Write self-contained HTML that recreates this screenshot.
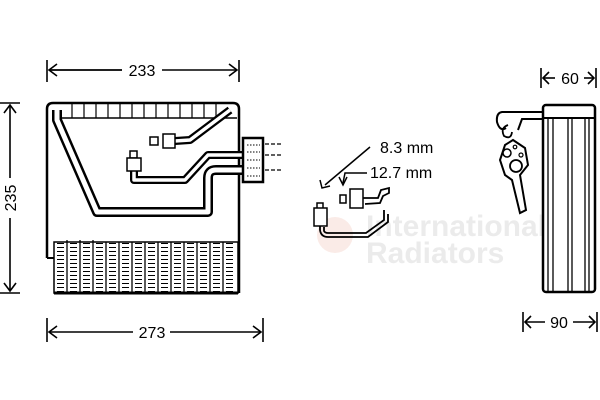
<!DOCTYPE html>
<html><head><style>html,body{margin:0;padding:0;background:#fff}svg{display:block}</style></head>
<body>
<svg width="600" height="400" viewBox="0 0 600 400" xmlns="http://www.w3.org/2000/svg" font-family="Liberation Sans, sans-serif">
<defs>
<pattern id="coil" x="54" y="242" width="13" height="4" patternUnits="userSpaceOnUse">
<rect width="13" height="4" fill="#fff"/>
<line x1="3" y1="1.5" x2="10" y2="1.5" stroke="#000" stroke-width="1"/>
</pattern>
<marker id="ah" markerWidth="10" markerHeight="10" refX="8" refY="5" orient="auto" markerUnits="userSpaceOnUse">
<path d="M0,0 L8,5 L0,10" fill="none" stroke="#000" stroke-width="2"/>
</marker>
</defs>
<!-- watermark -->
<g opacity="0.5">
<text x="366" y="236" font-size="30" font-weight="bold" fill="#d8d8d8">International</text>
<text x="366" y="263" font-size="30" font-weight="bold" fill="#d8d8d8">Radiators</text>
<circle cx="335" cy="235" r="18" fill="#f6d8d0"/>
</g>
<!-- dims -->
<g stroke="#000" stroke-width="1.6" fill="none">
<line x1="47" y1="60" x2="47" y2="82"/><line x1="239" y1="60" x2="239" y2="82"/>
<line x1="49" y1="70" x2="122" y2="70" marker-start="url(#ah)" style="marker-start:none"/>
<path d="M57,64 L49,70 L57,76"/><line x1="49" y1="70" x2="122" y2="70"/>
<line x1="162" y1="70" x2="237" y2="70"/><path d="M229,64 L237,70 L229,76"/>
<line x1="47" y1="318" x2="47" y2="342"/><line x1="263" y1="318" x2="263" y2="342"/>
<line x1="49" y1="332" x2="133" y2="332"/><path d="M57,326 L49,332 L57,338"/>
<line x1="170" y1="332" x2="261" y2="332"/><path d="M253,326 L261,332 L253,338"/>
<line x1="0" y1="103" x2="20" y2="103"/><line x1="0" y1="293" x2="20" y2="293"/>
<line x1="10" y1="105" x2="10" y2="178"/><path d="M4,113 L10,105 L16,113"/>
<line x1="10" y1="218" x2="10" y2="291"/><path d="M4,283 L10,291 L16,283"/>
<line x1="541" y1="68" x2="541" y2="88"/><line x1="596" y1="68" x2="596" y2="88"/>
<path d="M549,72 L543,78 L549,84"/><line x1="543" y1="78" x2="555" y2="78"/>
<path d="M588,72 L594,78 L588,84"/><line x1="584" y1="78" x2="594" y2="78"/>
<line x1="523" y1="312" x2="523" y2="332"/><line x1="597" y1="312" x2="597" y2="332"/>
<path d="M531,316 L525,322 L531,328"/><line x1="525" y1="322" x2="545" y2="322"/>
<path d="M589,316 L595,322 L589,328"/><line x1="573" y1="322" x2="595" y2="322"/>
</g>
<g font-size="16" fill="#000">
<text x="142" y="76" text-anchor="middle">233</text>
<text x="152" y="338" text-anchor="middle">273</text>
<text transform="translate(16,198) rotate(-90)" text-anchor="middle">235</text>
<text x="570" y="84" text-anchor="middle">60</text>
<text x="559" y="328" text-anchor="middle">90</text>
<text x="380" y="153">8.3 mm</text>
<text x="370" y="178">12.7 mm</text>
</g>
<!-- main body -->
<g stroke="#000" fill="none">
<path d="M47,258 L47,109 Q47,103 53,103 L233,103 Q239,103 239,109 L239,293" stroke-width="2.5"/>
<line x1="53" y1="118" x2="237" y2="118" stroke-width="1.5"/>
<g stroke-width="1.2">
<line x1="72" y1="104" x2="72" y2="118"/><line x1="84" y1="104" x2="84" y2="118"/><line x1="96" y1="104" x2="96" y2="118"/><line x1="108" y1="104" x2="108" y2="118"/><line x1="120" y1="104" x2="120" y2="118"/><line x1="132" y1="104" x2="132" y2="118"/><line x1="144" y1="104" x2="144" y2="118"/><line x1="156" y1="104" x2="156" y2="118"/><line x1="168" y1="104" x2="168" y2="118"/><line x1="180" y1="104" x2="180" y2="118"/><line x1="192" y1="104" x2="192" y2="118"/><line x1="204" y1="104" x2="204" y2="118"/><line x1="216" y1="104" x2="216" y2="118"/>
</g>
<line x1="47" y1="258" x2="54" y2="258" stroke-width="2"/>
</g>
<rect x="54" y="242" width="184" height="51" fill="url(#coil)" stroke="#000" stroke-width="1.5"/>
<g stroke="#000" stroke-width="1.3">
<line x1="67" y1="240" x2="67" y2="293"/><line x1="80" y1="240" x2="80" y2="293"/><line x1="93" y1="240" x2="93" y2="293"/><line x1="106" y1="242" x2="106" y2="293"/><line x1="119" y1="242" x2="119" y2="293"/><line x1="132" y1="242" x2="132" y2="293"/><line x1="145" y1="242" x2="145" y2="293"/><line x1="158" y1="242" x2="158" y2="293"/><line x1="171" y1="242" x2="171" y2="293"/><line x1="184" y1="242" x2="184" y2="293"/><line x1="197" y1="242" x2="197" y2="293"/><line x1="210" y1="242" x2="210" y2="293"/><line x1="223" y1="242" x2="223" y2="293"/>
</g>
<line x1="54" y1="293" x2="238" y2="293" stroke="#000" stroke-width="3"/>
<!-- pipes: double lines -->
<g fill="none" stroke-linejoin="round">
<path d="M57,110 L57,120 L97,212 L208,212 L208,178 Q208,170 216,170 L244,170" stroke="#000" stroke-width="10"/>
<path d="M57,110 L57,120 L97,212 L208,212 L208,178 Q208,170 216,170 L244,170" stroke="#fff" stroke-width="5"/>
<path d="M230,110 L190,140 L175,141" stroke="#000" stroke-width="8"/>
<path d="M230,110 L190,140 L175,141" stroke="#fff" stroke-width="3.5"/>
<path d="M134,170 L134,180 L185,180 L208,155 L244,155" stroke="#000" stroke-width="8"/>
<path d="M134,170 L134,180 L185,180 L208,155 L244,155" stroke="#fff" stroke-width="3.5"/>
</g>
<g fill="#fff" stroke="#000" stroke-width="1.5">
<rect x="150" y="137" width="8" height="8"/><rect x="163" y="134" width="12" height="14"/>
<rect x="130" y="151" width="7" height="7"/><rect x="127" y="158" width="14" height="13"/>
<rect x="243" y="138" width="20" height="44" stroke-width="2.5"/>
</g>
<g stroke="#000" stroke-width="1" stroke-dasharray="1.5,1.5">
<line x1="247" y1="145" x2="260" y2="145"/><line x1="247" y1="152" x2="260" y2="152"/><line x1="247" y1="160" x2="260" y2="160"/><line x1="247" y1="168" x2="260" y2="168"/><line x1="247" y1="176" x2="260" y2="176"/>
</g>
<g stroke="#000" stroke-width="1.3" stroke-dasharray="4,2">
<line x1="265" y1="144" x2="281" y2="144"/><line x1="265" y1="155" x2="281" y2="155"/><line x1="265" y1="170" x2="281" y2="170"/>
</g>
<!-- mid detail -->
<g stroke="#000" stroke-width="1.5" fill="none">
<path d="M370,147 L325,185"/><path d="M320,180 L322,188 L330,186"/>
<path d="M367,173 L345,173 L343,183"/><path d="M339,177 L343,185 L347,177"/>
<path d="M363,198 L378,198 L381,190 L389,188 L389,193 L383,196 L380,203 L365,204" stroke-width="1.8"/>
<rect x="340" y="195" width="6" height="8" fill="#fff"/><rect x="350" y="189" width="13" height="19" fill="#fff"/>
<path d="M320,212 L320,230 Q321,237 328,237 L368,237 L388,222 L388,214 M324,227 L324,231 Q325,233 328,233 L366,233 L384,220 L384,210" stroke-width="1.8"/>
<rect x="317" y="203" width="6" height="6" fill="#fff"/><rect x="314" y="208" width="13" height="18" fill="#fff"/>
</g>
<!-- side view -->
<g stroke="#000" fill="none">
<rect x="543" y="105" width="52" height="187" stroke-width="2.5" rx="3"/>
<line x1="543" y1="118" x2="595" y2="118" stroke-width="2"/>
<line x1="548" y1="118" x2="548" y2="292" stroke-width="1.3"/><line x1="553" y1="118" x2="553" y2="292" stroke-width="1.3"/>
<line x1="568" y1="118" x2="568" y2="292" stroke-width="1.3"/><line x1="572" y1="118" x2="572" y2="292" stroke-width="1.3"/>
<line x1="585" y1="118" x2="585" y2="292" stroke-width="1.3"/><line x1="589" y1="118" x2="589" y2="292" stroke-width="1.3"/>
<path d="M543,112 L502,112 Q496,113 497,122 Q500,132 506,128 M543,119 L522,119 L518,130" stroke-width="2"/>
<path d="M508,125 Q500,128 504,136 Q511,140 512,132" stroke-width="1.8"/>
<path d="M505,145 L513,140 L525,148 L528,165 L520,175 L526,210 L520,213 L512,180 L505,175 L500,160 Z" stroke-width="2"/>
<circle cx="507" cy="153" r="4" stroke-width="1.5"/><circle cx="515" cy="147" r="1.8" stroke-width="1.2"/><circle cx="521" cy="155" r="2" stroke-width="1.2"/>
<circle cx="516" cy="166" r="6" stroke-width="1.8"/>
</g>
</svg>
</body></html>
